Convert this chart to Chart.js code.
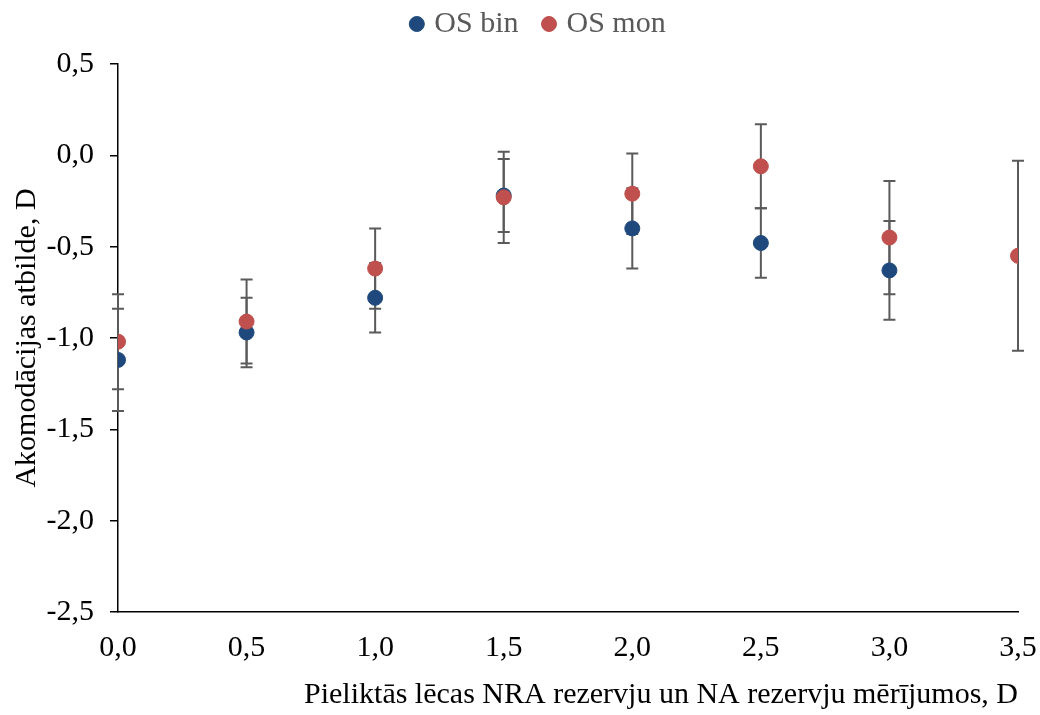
<!DOCTYPE html>
<html>
<head>
<meta charset="utf-8">
<script src="https://cdn.jsdelivr.net/npm/chart.js@4.4.1/dist/chart.umd.min.js"></script>
<style>
    html, body { margin: 0; padding: 0; background: #ffffff; }
    #wrap { width: 1040px; height: 715px; }
</style>
</head>
<body>
<div id="wrap"><canvas id="accChart"></canvas></div>
<script>
// pieliktās lēcas, D
const lensValues = [0, 0.5, 1.0, 1.5, 2.0, 2.5, 3.0, 3.5];

// OS bin - vidējās vērtības un kļūdas
const binMean = [-1.12, -0.97, -0.78, -0.22, -0.40, -0.48, -0.63, null];
const binErr = [0.28, 0.19, 0.19, 0.20, 0.22, 0.19, 0.27, null];

// OS mon
const monMean = [-1.02, -0.91, -0.62, -0.23, -0.21, -0.06, -0.45, -0.55];
const monErr = [0.26, 0.23, 0.22, 0.25, 0.22, 0.23, 0.31, 0.52];

const errors = [binErr, monErr];

const toPoints = (means) => lensValues.map((x, i) => ({ x: x, y: means[i] }));
const commaFmt = (v) => v.toFixed(1).replace('.', ',');

// kļūdu joslas (error bars) - zīmē pirms punktiem
const errorBarPlugin = {
    id: 'errorBars',
    beforeDatasetsDraw(chart) {
        const ctx = chart.ctx;
        const xs = chart.scales.x;
        const ys = chart.scales.y;
        ctx.save();
        ctx.strokeStyle = '#5a5a5a';
        ctx.lineWidth = 2;
        chart.data.datasets.forEach((ds, di) => {
            ds.data.forEach((p, i) => {
                const err = errors[di][i];
                if (p.y === null || err === null) return;
                const px = xs.getPixelForValue(p.x);
                const top = ys.getPixelForValue(p.y + err);
                const bot = ys.getPixelForValue(p.y - err);
                ctx.beginPath();
                ctx.moveTo(px, top);
                ctx.lineTo(px, bot);
                ctx.moveTo(px - 6, top);
                ctx.lineTo(px + 6, top);
                ctx.moveTo(px - 6, bot);
                ctx.lineTo(px + 6, bot);
                ctx.stroke();
            });
        });
        ctx.restore();
    }
};

// leģendas augstuma un novietojuma korekcija
const legendSpacing = {
    id: 'legendSpacing',
    beforeInit(chart) {
        const origFit = chart.legend.fit;
        chart.legend.fit = function () {
            origFit.bind(chart.legend)();
            this.height += 15;
        };
    },
    afterLayout(chart) {
        chart.legend.left += 40;
    }
};

const serif = "'Liberation Serif', 'Times New Roman', serif";

new Chart(document.getElementById('accChart'), {
    type: 'scatter',
    data: {
        datasets: [
            {
                label: 'OS bin',
                data: toPoints(binMean),
                backgroundColor: '#1f497d',
                borderColor: '#1f497d',
                pointRadius: 7.5,
                order: 2,
            },
            {
                label: 'OS mon',
                data: toPoints(monMean),
                backgroundColor: '#c0504d',
                borderColor: '#c0504d',
                pointRadius: 7.5,
                order: 1,
            },
        ],
    },
    options: {
        responsive: true,
        maintainAspectRatio: false,
        animation: false,
        layout: { padding: { top: -19, right: 0, left: 0, bottom: 0 } },
        plugins: {
            legend: {
                position: 'top',
                labels: {
                    usePointStyle: true,
                    pointStyle: 'circle',
                    boxWidth: 5,
                    boxHeight: 10.6,
                    padding: 28,
                    color: '#595959',
                    font: { family: serif, size: 30 },
                    sort: (a, b) => a.datasetIndex - b.datasetIndex,
                },
            },
            tooltip: { enabled: false },
        },
        scales: {
            x: {
                type: 'linear',
                min: 0,
                max: 3.5,
                afterFit: (scale) => {
                    scale.height = 103;
                    scale.paddingRight = 22;
                },
                ticks: {
                    stepSize: 0.5,
                    padding: 10,
                    color: '#000000',
                    font: { family: serif, size: 30 },
                    callback: (v) => commaFmt(v),
                },
                grid: { display: false },
                border: { display: true, color: '#000000', width: 1.5 },
                title: {
                    display: true,
                    align: 'end',
                    text: 'Pieliktās lēcas NRA rezervju un NA rezervju mērījumos, D',
                    color: '#000000',
                    font: { family: serif, size: 30 },
                    padding: { top: 0, bottom: 2 },
                },
            },
            y: {
                min: -2.5,
                max: 0.5,
                afterFit: (scale) => { scale.width = 118; },
                ticks: {
                    stepSize: 0.5,
                    padding: 16,
                    color: '#000000',
                    font: { family: serif, size: 30 },
                    callback: (v) => commaFmt(v),
                },
                grid: {
                    drawOnChartArea: false,
                    drawTicks: true,
                    tickLength: 8,
                    color: '#000000',
                    lineWidth: 1.5,
                },
                border: { display: true, color: '#000000', width: 1.5 },
                title: {
                    display: true,
                    text: 'Akomodācijas atbilde, D',
                    color: '#000000',
                    font: { family: serif, size: 30 },
                    padding: { top: 9, bottom: 0 },
                },
            },
        },
    },
    plugins: [errorBarPlugin, legendSpacing],
});
</script>
</body>
</html>
